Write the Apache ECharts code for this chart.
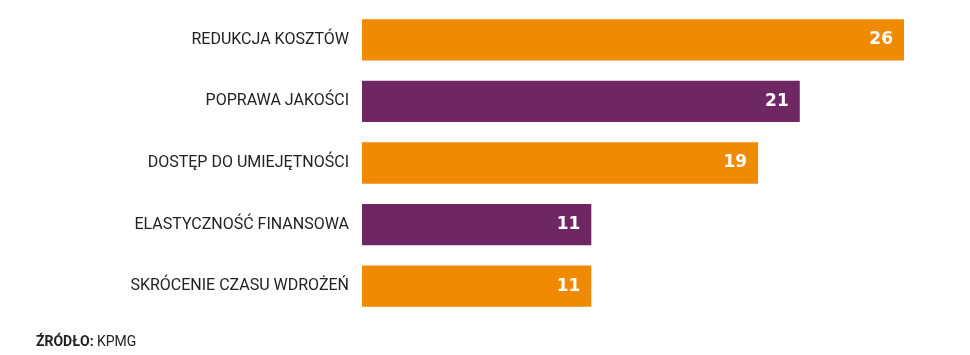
<!DOCTYPE html>
<html>
<head>
<meta charset="utf-8">
<script src="https://cdn.jsdelivr.net/npm/echarts@6/dist/echarts.min.js"></script>
<style>
  html, body { margin: 0; padding: 0; background: #fff; }
  #graph { width: 970px; height: 355px; }
</style>
</head>
<body>
<div id="graph"></div>
<script>
var categories = ['REDUKCJA KOSZTÓW', 'POPRAWA JAKOŚCI', 'DOSTĘP DO UMIEJĘTNOŚCI', 'ELASTYCZNOŚĆ FINANSOWA', 'SKRÓCENIE CZASU WDROŻEŃ'];
var values = [26, 21, 19, 11, 11];
var barColors = ['#F08A00', '#6E2762', '#F08A00', '#6E2762', '#F08A00'];

var chartDom = document.getElementById('graph');
var myChart = echarts.init(chartDom);
var option;

option = {
  animation: false,
  grid: {
    left: 362,
    width: 542,
    top: 9,
    height: 308
  },
  xAxis: {
    type: 'value',
    min: 0,
    max: 26,
    show: false
  },
  yAxis: {
    type: 'category',
    inverse: true,
    data: categories,
    axisLine: { show: false },
    axisTick: { show: false },
    axisLabel: {
      margin: 13,
      color: '#222',
      fontSize: 16,
      fontFamily: 'Roboto, sans-serif'
    }
  },
  series: [
    {
      type: 'bar',
      barCategoryGap: '33%',
      data: values.map(function (v, i) {
        return { value: v, itemStyle: { color: barColors[i] } };
      }),
      label: {
        show: true,
        position: 'insideRight',
        distance: 11,
        color: '#fff',
        fontSize: 17,
        fontWeight: 'bold',
        fontFamily: 'DejaVu Sans, sans-serif'
      }
    }
  ],
  graphic: [
    {
      type: 'text',
      left: 36,
      top: 335,
      style: {
        rich: {
          b: { fontWeight: 'bold', fontSize: 14, fontFamily: 'Roboto, sans-serif', fill: '#222' },
          n: { fontSize: 14, fontFamily: 'Roboto, sans-serif', fill: '#222' }
        },
        text: '{b|ŹRÓDŁO:} {n|KPMG}'
      }
    }
  ]
};

option && myChart.setOption(option);
</script>
</body>
</html>
